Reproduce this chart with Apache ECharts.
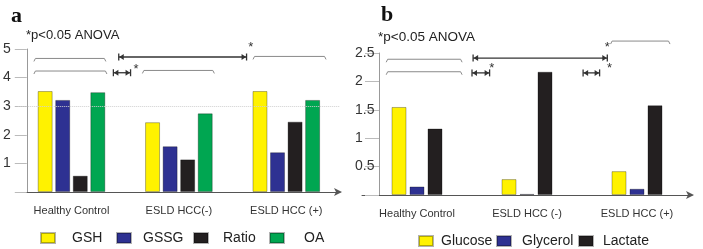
<!DOCTYPE html>
<html>
<head>
<meta charset="utf-8">
<script src="https://cdn.jsdelivr.net/npm/echarts@6/dist/echarts.min.js"></script>
<style>
  html, body { margin: 0; padding: 0; background: #fff; }
  #chart { width: 703px; height: 249px; }
</style>
</head>
<body>
<div id="chart"></div>
<script>
// categories
const groupsA = ["Healthy Control", "ESLD HCC(-)", "ESLD HCC (+)"];
const groupsB = ["Healthy Control", "ESLD HCC (-)", "ESLD HCC (+)"];

// panel a values
const gsh = [3.53, 2.44, 3.53];
const gssg = [3.22, 1.60, 1.39];
const ratio = [0.57, 1.14, 2.46];
const oa = [3.49, 2.75, 3.22];

// panel b values
const glucose = [1.55, 0.28, 0.42];
const glycerol = [0.15, 0.02, 0.11];
const lactate = [1.17, 2.17, 1.58];

// significance annotations, x in category units (0,1,2 = group centres), y in data units
const bracketsA = [[-0.35, 0.32, 4.67], [-0.35, 0.33, 4.23], [1.69, 2.37, 4.74], [0.66, 1.33, 4.25]];
const arrowsA = [[0.44, 1.63, 4.72], [0.39, 0.55, 4.17]];
const starsA = [[1.67, 5.05], [0.60, 4.30]];

const bracketsB = [[-0.28, 0.41, 2.39], [-0.28, 0.41, 2.17], [1.76, 2.30, 2.71]];
const arrowsB = [[0.51, 1.73, 2.41], [0.50, 0.66, 2.15], [1.51, 1.66, 2.15]];
const starsB = [[1.73, 2.60], [0.68, 2.22], [1.75, 2.22]];

const COLORS = {
  GSH: "#fff200", GSSG: "#2e3192", Ratio: "#231f20", OA: "#00a651",
  Glucose: "#fff200", Glycerol: "#2e3192", Lactate: "#231f20"
};
const FONT = "Liberation Sans, Arial, sans-serif";

const chart = echarts.init(document.getElementById("chart"), null, { renderer: "canvas" });

function bar(name, data, xi, yi, gap) {
  return {
    name: name,
    type: "bar",
    xAxisIndex: xi,
    yAxisIndex: yi,
    data: data,
    barWidth: 15,
    barGap: gap,
    itemStyle: { color: COLORS[name], borderColor: "rgba(0,0,0,0.3)", borderWidth: 1 },
    emphasis: { disabled: true },
    z: 2
  };
}

function bracketSeries(data, xi, yi) {
  return {
    type: "custom",
    xAxisIndex: xi,
    yAxisIndex: yi,
    data: data,
    clip: false,
    silent: true,
    encode: { x: [0, 1], y: 2 },
    renderItem: function (params, api) {
      const a = api.coord([api.value(0), api.value(2)]);
      const b = api.coord([api.value(1), api.value(2)]);
      return {
        type: "polyline",
        shape: { points: [[a[0], a[1] + 3], [a[0] + 1.5, a[1]], [b[0] - 1.5, b[1]], [b[0], b[1] + 3]] },
        style: { stroke: "#8a8a8a", lineWidth: 1, fill: null }
      };
    }
  };
}

function arrowSeries(data, xi, yi) {
  return {
    type: "custom",
    xAxisIndex: xi,
    yAxisIndex: yi,
    data: data,
    clip: false,
    silent: true,
    encode: { x: [0, 1], y: 2 },
    renderItem: function (params, api) {
      const a = api.coord([api.value(0), api.value(2)]);
      const b = api.coord([api.value(1), api.value(2)]);
      const c = "#333";
      return {
        type: "group",
        children: [
          { type: "line", shape: { x1: a[0], y1: a[1], x2: b[0], y2: b[1] }, style: { stroke: c, lineWidth: 1.3 } },
          { type: "line", shape: { x1: a[0], y1: a[1] - 3.5, x2: a[0], y2: a[1] + 3.5 }, style: { stroke: c, lineWidth: 1.3 } },
          { type: "line", shape: { x1: b[0], y1: b[1] - 3.5, x2: b[0], y2: b[1] + 3.5 }, style: { stroke: c, lineWidth: 1.3 } },
          { type: "polygon", shape: { points: [[a[0] + 0.5, a[1]], [a[0] + 5, a[1] - 3], [a[0] + 5, a[1] + 3]] }, style: { fill: c } },
          { type: "polygon", shape: { points: [[b[0] - 0.5, b[1]], [b[0] - 5, b[1] - 3], [b[0] - 5, b[1] + 3]] }, style: { fill: c } }
        ]
      };
    }
  };
}

function starSeries(data, xi, yi) {
  return {
    type: "custom",
    xAxisIndex: xi,
    yAxisIndex: yi,
    data: data,
    clip: false,
    silent: true,
    encode: { x: 0, y: 1 },
    renderItem: function (params, api) {
      const p = api.coord([api.value(0), api.value(1)]);
      return {
        type: "text",
        style: { x: p[0], y: p[1], text: "*", fill: "#333", font: "13px " + FONT, align: "center", verticalAlign: "middle" }
      };
    }
  };
}

function legendItem(name, left, top, pad) {
  return {
    data: [name],
    left: left,
    top: top,
    padding: 0,
    icon: "rect",
    itemWidth: 14,
    itemHeight: 10,
    selectedMode: false,
    textStyle: { fontSize: 14, color: "#222", fontFamily: FONT, padding: [0, 0, 0, pad] }
  };
}

const catAxis = (grid, cats) => ({
  type: "category",
  gridIndex: grid,
  data: cats,
  axisLine: { lineStyle: { color: "#555", width: 1 }, symbol: ["none", "arrow"], symbolSize: [6, 8], symbolOffset: [0, 2] },
  axisTick: { show: false },
  axisLabel: { fontSize: 11, color: "#333", margin: 13, fontFamily: FONT }
});

const option = {
  animation: false,
  textStyle: { fontFamily: FONT },
  grid: [
    { left: 16, width: 324, top: 49, height: 143 },
    { left: 362, width: 330, top: 53, height: 142 }
  ],
  xAxis: [
    catAxis(0, groupsA),
    catAxis(1, groupsB),
    { type: "value", gridIndex: 0, min: -0.5, max: 2.5, show: false },
    { type: "value", gridIndex: 1, min: -0.5, max: 2.5, show: false }
  ],
  yAxis: [
    {
      type: "value", gridIndex: 0, min: 0, max: 5, interval: 1, offset: -9,
      axisLine: { show: true, onZero: false, lineStyle: { color: "#999" } },
      axisTick: { show: true, length: 12, lineStyle: { color: "#bbb" } },
      axisLabel: { fontSize: 14, color: "#333", margin: 16, formatter: v => (v === 0 ? "" : v) },
      splitLine: { show: false }
    },
    {
      type: "value", gridIndex: 1, min: 0, max: 2.5, interval: 0.5, offset: -17,
      axisLine: { show: true, onZero: false, lineStyle: { color: "#999" } },
      axisTick: { show: true, length: 14, lineStyle: { color: "#bbb" } },
      axisLabel: { fontSize: 14, color: "#333", margin: 24, align: "left", formatter: v => (v === 0 ? "" : v) },
      splitLine: { show: false }
    }
  ],
  legend: [
    legendItem("GSH", 40, 231, 12),
    legendItem("GSSG", 116, 231, 7),
    legendItem("Ratio", 193, 231, 10),
    legendItem("OA", 269, 231, 15),
    legendItem("Glucose", 418, 234, 3),
    legendItem("Glycerol", 496, 234, 6),
    legendItem("Lactate", 578, 234, 5)
  ],
  graphic: [
    { type: "text", left: 11, top: 5, style: { text: "a", font: "bold 22px Liberation Serif, serif", fill: "#111" } },
    { type: "text", left: 381, top: 4, style: { text: "b", font: "bold 22px Liberation Serif, serif", fill: "#111" } },
    { type: "text", left: 26, top: 29, style: { text: "*p<0.05 ANOVA", font: "13px " + FONT, fill: "#222" } },
    { type: "text", left: 378, top: 30, style: { text: "*p<0.05 ANOVA", font: "13.5px " + FONT, fill: "#222" } }
  ],
  series: [
    Object.assign(bar("GSH", gsh, 0, 0, "17%"), {
      markLine: {
        silent: true, symbol: "none", label: { show: false },
        lineStyle: { color: "#d0d0d0", type: "dotted", width: 1 },
        data: [{ yAxis: 3 }]
      }
    }),
    bar("GSSG", gssg, 0, 0, "17%"),
    bar("Ratio", ratio, 0, 0, "17%"),
    bar("OA", oa, 0, 0, "17%"),
    bar("Glucose", glucose, 1, 1, "20%"),
    bar("Glycerol", glycerol, 1, 1, "20%"),
    bar("Lactate", lactate, 1, 1, "20%"),
    bracketSeries(bracketsA, 2, 0),
    arrowSeries(arrowsA, 2, 0),
    starSeries(starsA, 2, 0),
    bracketSeries(bracketsB, 3, 1),
    arrowSeries(arrowsB, 3, 1),
    starSeries(starsB, 3, 1)
  ]
};

chart.setOption(option);
</script>
</body>
</html>
